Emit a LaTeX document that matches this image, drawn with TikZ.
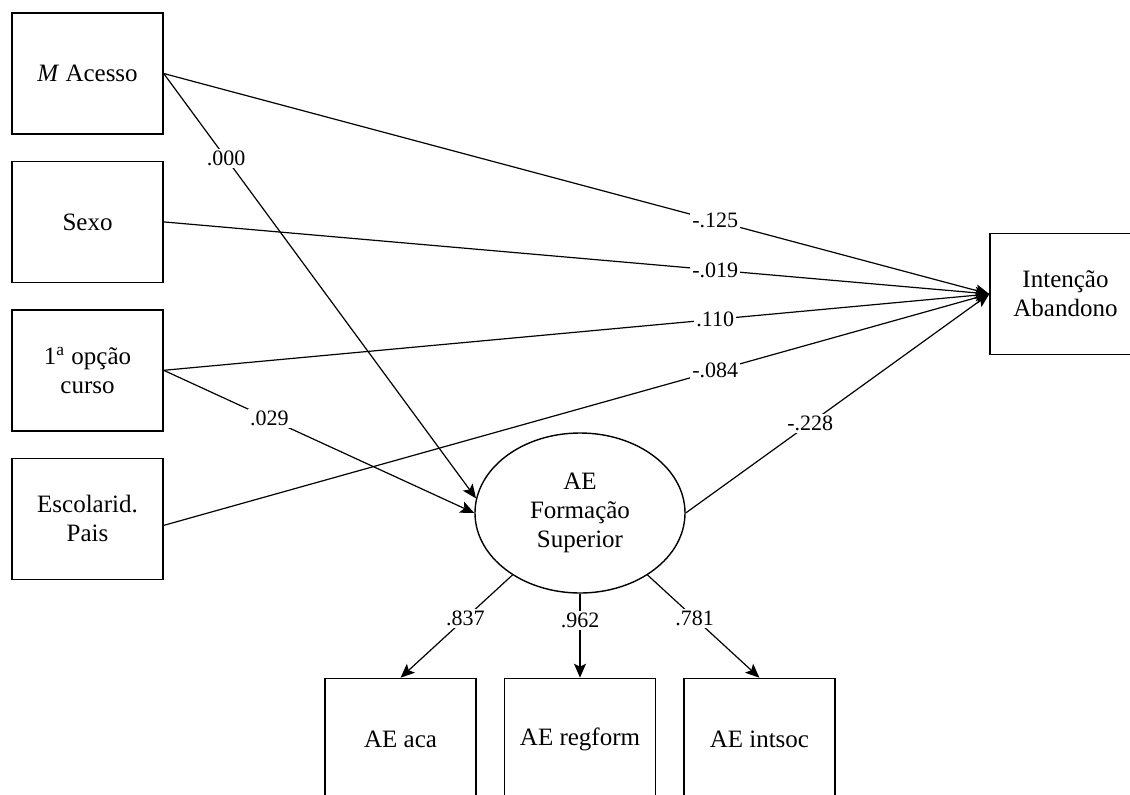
\documentclass[tikz,border=0pt]{standalone}
\usepackage{fontspec}
\setmainfont{Liberation Serif}
\usetikzlibrary{positioning, arrows.meta, shapes.geometric}

\begin{document}
\begin{tikzpicture}[
		x=0.5pt, y=-0.5pt,
		% Define styles for the variables and the paths
		varbox/.style={
			rectangle, draw, line width=0.7pt, align=center,
			minimum width=75.5pt, minimum height=60.5pt, inner sep=2pt,
			font=\fontsize{12.5}{14.5}\selectfont
		},
		latent/.style={
			ellipse, draw, line width=0.7pt, align=center,
			minimum width=105pt, minimum height=80pt, inner sep=0pt,
			font=\fontsize{12.5}{14.5}\selectfont
		},
		edge/.style={
			-{Stealth[length=7pt, width=6pt, inset=1.5pt]}, line width=0.6pt
		},
		coef/.style={
			fill=white, inner sep=1pt, font=\fontsize{11}{13}\selectfont
		}
		]
		
		\useasboundingbox (0,0) rectangle (1130,794);
		
		% Observed predictors on the left
		\node[varbox] (acesso) at (87.5,73.5) {\textit{M} Acesso};
		\node[varbox, below=13pt of acesso] (sexo) {Sexo};
		\node[varbox, below=13pt of sexo] (opcao) {1\textsuperscript{a} opção\\curso};
		\node[varbox, below=13pt of opcao] (escol) {Escolarid.\\Pais};
		
		% Outcome and latent variable
		\node[varbox] (intencao) at (1065.5,294) {Intenção\\Abandono};
		\node[latent] (aefs) at (580,513) {AE\\Formação\\Superior};
		
		% Indicators below the latent variable
		\node[varbox, below=42pt of aefs] (regform) {AE regform};
		\node[varbox, left=13.5pt of regform] (aca) {AE aca};
		\node[varbox, right=13.5pt of regform] (intsoc) {AE intsoc};
		
		% Paths to the outcome
		\draw[edge] (acesso.east) -- (intencao.west) node[coef, pos=0.668] {-.125};
		\draw[edge] (sexo.east) -- (intencao.west) node[coef, pos=0.668] {-.019};
		\draw[edge] (opcao.east) -- (intencao.west) node[coef, pos=0.668] {.110};
		\draw[edge] (escol.355) -- (intencao.west) node[coef, pos=0.668] {-.084};
		\draw[edge] (aefs.east) -- (intencao.west) node[coef, pos=0.41] {-.228};
		
		% Paths to the latent variable
		\draw[edge] (acesso.east) -- (aefs.172) node[coef, pos=0.2] {.000};
		\draw[edge] (opcao.east) -- (aefs.west) node[coef, pos=0.34] {.029};
		
		% Loadings
		\draw[edge] (aefs) -- (aca.north) node[coef, pos=0.42] {.837};
		\draw[edge] (aefs) -- (regform.north) node[coef, pos=0.32] {.962};
		\draw[edge] (aefs) -- (intsoc.north) node[coef, pos=0.42] {.781};
		
	\end{tikzpicture}
\end{document}
